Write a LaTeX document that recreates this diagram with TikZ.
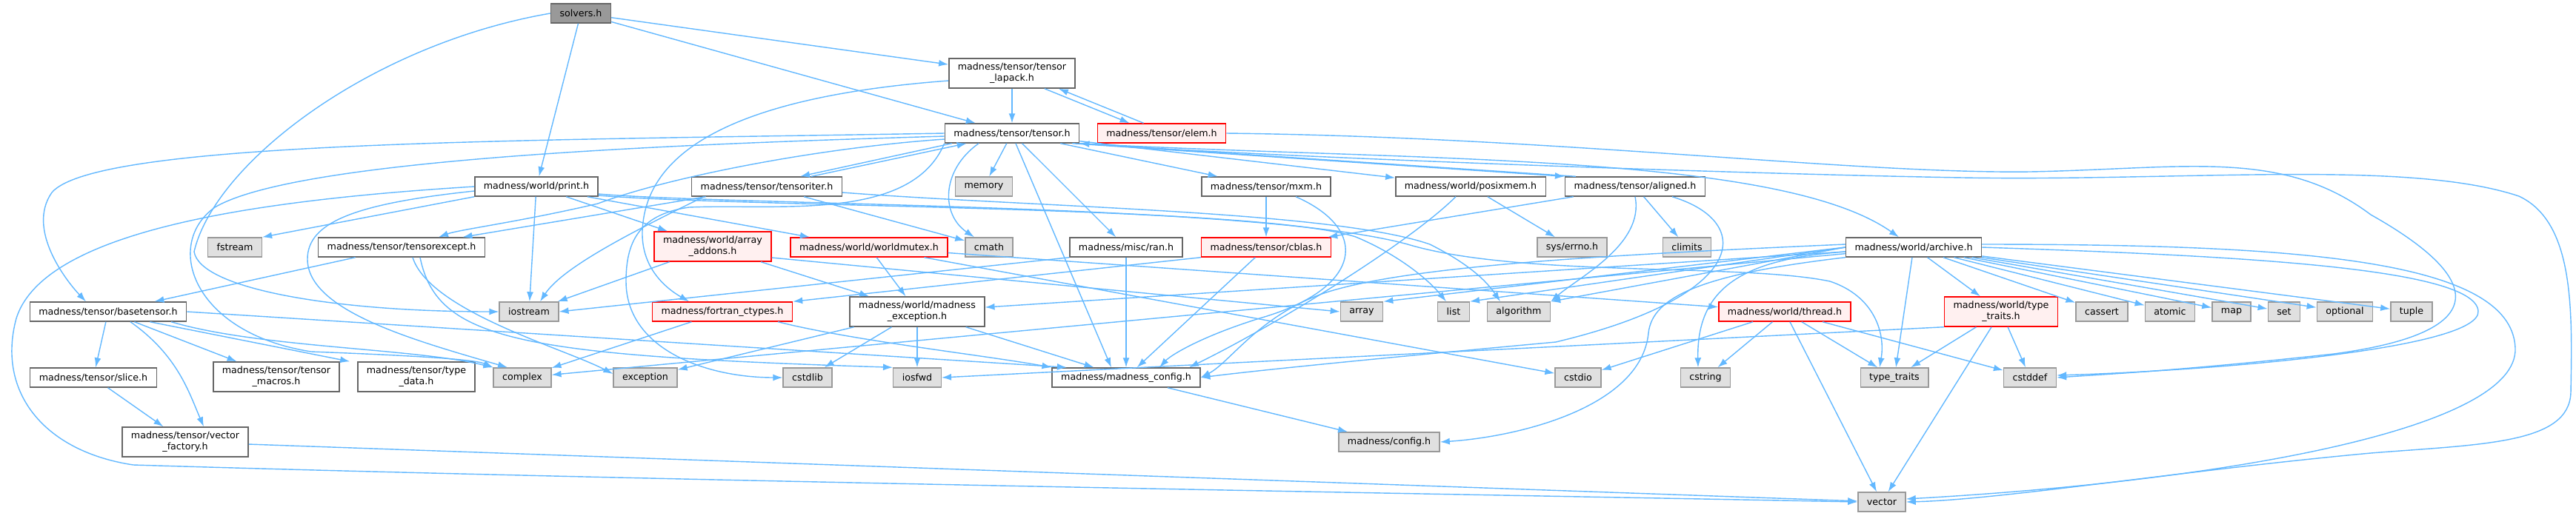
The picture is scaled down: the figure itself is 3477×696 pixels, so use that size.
\documentclass[tikz,border=0pt]{standalone}
\usepackage{fontspec}
\setmainfont{DejaVu Sans}
\usepackage{tikz}
\usetikzlibrary{arrows.meta}
\definecolor{edgeblue}{HTML}{63B8FF}
\definecolor{filegray}{HTML}{666666}
\definecolor{sysfill}{HTML}{E0E0E0}
\definecolor{sysgray}{HTML}{999999}
\definecolor{redfill}{HTML}{FFF0F0}
\definecolor{rootfill}{HTML}{999999}
\tikzset{
hfile/.style={
draw=filegray,
fill=white,
line width=0.4pt,
inner xsep=0.12cm,
inner ysep=0pt,
minimum height=0.26cm,
align=center,
font=\fontsize{3.6}{4.3}\selectfont
},
sysfile/.style={
hfile,
fill=sysfill,
draw=sysgray
},
redfile/.style={
hfile,
fill=redfill,
draw=red
},
rootfile/.style={
hfile,
fill=rootfill,
draw=filegray
},
twoline/.style={
minimum height=0.4cm
},
dep/.style={
-{Latex[length=1.3mm,width=0.9mm]},
draw=edgeblue,
line width=0.4pt
}
}
\begin{document}
\begin{tikzpicture}[x=0.01cm,y=-0.01cm]
\useasboundingbox (0,0) rectangle (3477,696);
% top rows
\node[rootfile](solvers) at (784,18){solvers.h};
\node[hfile,twoline](lapack) at (1366,99){madness/tensor/tensor\\\_lapack.h};
\node[hfile](tensor) at (1366,180){madness/tensor/tensor.h};
\node[redfile](elem) at (1568,180){madness/tensor/elem.h};
\node[hfile](print) at (724,252){madness/world/print.h};
\node[hfile](tensoriter) at (1035,252){madness/tensor/tensoriter.h};
\node[sysfile](memory) at (1328,252){memory};
\node[hfile](mxm) at (1709,252){madness/tensor/mxm.h};
\node[hfile](posixmem) at (1985,252){madness/world/posixmem.h};
\node[hfile](aligned) at (2207,252){madness/tensor/aligned.h};
\node[sysfile](fstream) at (317,334){fstream};
\node[hfile](tensorexcept) at (542,334){madness/tensor/tensorexcept.h};
\node[redfile,twoline](arrayaddons) at (962,333){madness/world/array\\\_addons.h};
\node[redfile](worldmutex) at (1173,334){madness/world/worldmutex.h};
\node[sysfile](cmath) at (1335,334){cmath};
\node[hfile](ran) at (1520,334){madness/misc/ran.h};
\node[redfile](cblas) at (1709,334){madness/tensor/cblas.h};
\node[sysfile](errno) at (2122,334){sys/errno.h};
\node[sysfile](climits) at (2277,334){climits};
\node[hfile](archive) at (2583,334){madness/world/archive.h};
% middle row
\node[hfile](basetensor) at (146,421){madness/tensor/basetensor.h};
\node[sysfile](iostream) at (714,421){iostream};
\node[redfile](fortran) at (975,421){madness/fortran\_ctypes.h};
\node[hfile,twoline](mexception) at (1238,421){madness/world/madness\\\_exception.h};
\node[sysfile](array) at (1838,421){array};
\node[sysfile](list) at (1962,421){list};
\node[sysfile](algorithm) at (2050,421){algorithm};
\node[redfile](thread) at (2409,421){madness/world/thread.h};
\node[redfile,twoline](wtypetraits) at (2701,421){madness/world/type\\\_traits.h};
\node[sysfile](cassert) at (2837,421){cassert};
\node[sysfile](atomic) at (2929,421){atomic};
\node[sysfile](map) at (3012,421){map};
\node[sysfile](set) at (3083,421){set};
\node[sysfile](optional) at (3165,421){optional};
\node[sysfile](tuple) at (3255,421){tuple};
% lower rows
\node[hfile](slice) at (126,510){madness/tensor/slice.h};
\node[hfile,twoline](tmacros) at (373,509){madness/tensor/tensor\\\_macros.h};
\node[hfile,twoline](typedata) at (562,509){madness/tensor/type\\\_data.h};
\node[sysfile](complex) at (705,510){complex};
\node[sysfile](exception) at (871,510){exception};
\node[sysfile](cstdlib) at (1090,510){cstdlib};
\node[sysfile](iosfwd) at (1238,510){iosfwd};
\node[hfile](mconfig) at (1520,510){madness/madness\_config.h};
\node[sysfile](cstdio) at (2130,510){cstdio};
\node[sysfile](cstring) at (2302,510){cstring};
\node[sysfile](typetraits) at (2557,510){type\_traits};
\node[sysfile](cstddef) at (2740,510){cstddef};
\node[hfile,twoline](vfactory) at (250,597){madness/tensor/vector\\\_factory.h};
\node[sysfile](config) at (1875,597){madness/config.h};
\node[sysfile](vector) at (2540,678){vector};

% straight includes
\foreach \x/\y in {solvers/print,solvers/lapack,solvers/tensor,lapack/tensor,tensor/memory,tensor/ran,tensor/mxm,tensor/posixmem,print/iostream,print/arrayaddons,tensoriter/tensorexcept,tensoriter/cmath,tensorexcept/basetensor,basetensor/slice,basetensor/tmacros,slice/vfactory,arrayaddons/iostream,arrayaddons/mexception,worldmutex/mexception,worldmutex/thread,worldmutex/cstdio,fortran/complex,mexception/iosfwd,mexception/exception,mexception/cstdlib,mexception/mconfig,ran/mconfig,mxm/cblas,cblas/mconfig,posixmem/errno,aligned/cblas,aligned/climits,mconfig/config,archive/wtypetraits,archive/typetraits,archive/cassert,archive/atomic,archive/map,archive/set,archive/optional,archive/tuple,archive/mexception,archive/complex,thread/cstring,thread/cstdio,thread/typetraits,thread/cstddef,thread/vector,wtypetraits/typetraits,wtypetraits/cstddef,wtypetraits/vector,vfactory/vector}
\draw[dep](\x)--(\y);

\draw[dep]([xshift=-0.42cm]lapack.south east)--([xshift=0.44cm]elem.north west);
\draw[dep]([xshift=0.63cm]elem.north west)--([xshift=-0.23cm]lapack.south east);
\draw[dep]([xshift=0.1cm]tensor.south west)--([xshift=0.45cm]tensoriter.north);
\draw[dep]([xshift=0.6cm]tensoriter.north)--([xshift=0.3cm]tensor.south west);
\draw[dep]([xshift=0.05cm]tensor.south)--([xshift=-0.2cm]mconfig.north);
\draw[dep]([xshift=-0.1cm]tensor.south east)--(aligned.north west);
\draw[dep]([xshift=0.15cm]aligned.north west)--(tensor.south east);
\draw[dep](print.south west)--(fstream.north east);
\draw[dep]([xshift=-0.15cm]print.south east)--([xshift=-0.8cm]worldmutex.north);
\draw[dep](ran.south west)--(iostream.east);
\draw[dep](cblas.south west)--(fortran.north east);
\draw[dep]([yshift=-0.15cm]arrayaddons.east)--(array.west);
\draw[dep](basetensor.east)--([xshift=-0.8cm]mconfig.north);
\draw[dep]([xshift=-0.5cm]basetensor.south east)--([xshift=-0.1cm]typedata.north west);
\draw[dep](wtypetraits.south west)--(iosfwd.east);
\draw[dep](archive.west)--(array.north east);
\draw[dep](archive.west)--(list.north east);
\draw[dep](archive.west)--(algorithm.north east);

% curved includes
\draw[dep](solvers.west)..controls(500,60)and(290,220)..(262,340)..controls(270,390)and(450,421)..(iostream.west);
\draw[dep]([yshift=-0.1cm]lapack.west)..controls(1000,130)and(880,200)..(868,300)..controls(860,360)and(900,390)..([xshift=-0.45cm]fortran.north);
\draw[dep](tensor.west)..controls(700,190)and(130,190)..(70,260)..controls(35,310)and(90,380)..([xshift=-0.3cm]basetensor.north);
\draw[dep]([yshift=-0.08cm]tensor.west)..controls(1100,200)and(900,240)..(807,275)..controls(700,300)and(620,310)..([xshift=0.5cm]tensorexcept.north);
\draw[dep]([yshift=-0.04cm]tensor.west)..controls(900,195)and(400,215)..(290,280)..controls(220,330)and(260,450)..(420,475)..controls(550,480)and(640,485)..(complex.north west);
\draw[dep]([xshift=-0.45cm]tensor.south)..controls(1270,230)and(1270,290)..([xshift=-0.2cm]cmath.north);
\draw[dep](tensor.south east)..controls(1900,218)and(2400,205)..([xshift=-0.2cm]archive.north);
\draw[dep](tensor.south east)..controls(1700,212)and(2350,235)..(2650,240)..controls(2950,245)and(3250,215)..(3400,265)..controls(3475,300)and(3472,420)..(3470,530)..controls(3468,600)and(3350,600)..(3200,612)..controls(2950,635)and(2700,675)..(vector.east);
\draw[dep](tensor.south west)..controls(1230,300)and(1050,275)..(930,280)..controls(860,290)and(845,330)..(845,380)..controls(845,470)and(950,510)..(cstdlib.west);
\draw[dep](elem.east)..controls(2100,185)and(2500,235)..(2740,232)..controls(2950,228)and(3080,200)..(3200,290)..controls(3360,380)and(3360,450)..(3150,478)..controls(2950,500)and(2850,505)..(cstddef.east);
\draw[dep]([yshift=-0.06cm]print.west)..controls(480,275)and(415,300)..(415,350)..controls(415,420)and(560,460)..([xshift=-0.2cm]complex.north);
\draw[dep](print.west)..controls(350,270)and(60,310)..(22,430)..controls(-5,530)and(60,610)..(180,628)..controls(900,650)and(2000,668)..(vector.west);
\draw[dep]([yshift=-0.12cm]print.east)..controls(1000,280)and(1700,278)..(1830,320)..controls(1890,345)and(1930,380)..([xshift=-0.1cm]list.north);
\draw[dep]([yshift=-0.1cm]print.east)..controls(1000,278)and(1700,275)..(1900,330)..controls(2050,375)and(2350,355)..(2470,380)..controls(2530,400)and(2545,450)..([xshift=-0.2cm]typetraits.north);
\draw[dep]([yshift=-0.08cm]tensoriter.east)..controls(1400,280)and(1800,285)..(1930,330)..controls(1990,360)and(2010,385)..([xshift=-0.25cm]algorithm.north);
\draw[dep]([xshift=-0.85cm]tensoriter.south)..controls(860,310)and(760,360)..([xshift=0.15cm]iostream.north);
\draw[dep]([xshift=0.15cm]tensorexcept.south)..controls(580,420)and(760,470)..([yshift=0.05cm]exception.west);
\draw[dep]([xshift=0.25cm]tensorexcept.south)..controls(590,460)and(700,480)..(iosfwd.north west);
\draw[dep]([xshift=0.85cm]basetensor.south)..controls(350,470)and(560,470)..(complex.north west);
\draw[dep]([xshift=0.3cm]basetensor.south)..controls(240,480)and(255,530)..([xshift=0.25cm]vfactory.north);
\draw[dep]([xshift=0.75cm]fortran.south)..controls(1150,460)and(1330,480)..(mconfig.north west);
\draw[dep]([xshift=0.4cm]mxm.south)..controls(1850,310)and(1840,390)..(1700,430)..controls(1620,455)and(1580,480)..([xshift=0.45cm]mconfig.north);
\draw[dep]([xshift=-0.2cm]posixmem.south)..controls(1900,330)and(1720,440)..([xshift=0.85cm]mconfig.north);
\draw[dep](aligned.south)..controls(2220,330)and(2130,375)..(algorithm.north east);
\draw[dep]([xshift=0.5cm]aligned.south)..controls(2370,300)and(2360,400)..(2100,462)..controls(1850,485)and(1700,500)..(mconfig.east);
\draw[dep]([yshift=-0.06cm]archive.west)..controls(2350,350)and(2290,390)..([xshift=-0.1cm]cstring.north);
\draw[dep](archive.south west)..controls(2300,370)and(2230,400)..(2225,450)..controls(2215,550)and(2050,590)..(config.east);
\draw[dep]([yshift=0.04cm]archive.west)..controls(2150,345)and(1900,360)..(1790,395)..controls(1700,425)and(1660,490)..(mconfig.east);
\draw[dep](archive.east)..controls(3000,345)and(3340,360)..(3345,420)..controls(3350,470)and(3000,500)..([yshift=0.03cm]cstddef.east);
\draw[dep]([yshift=0.04cm]archive.east)..controls(3100,330)and(3390,350)..(3395,470)..controls(3400,580)and(3000,650)..([yshift=0.04cm]vector.east);
\end{tikzpicture}
\end{document}
